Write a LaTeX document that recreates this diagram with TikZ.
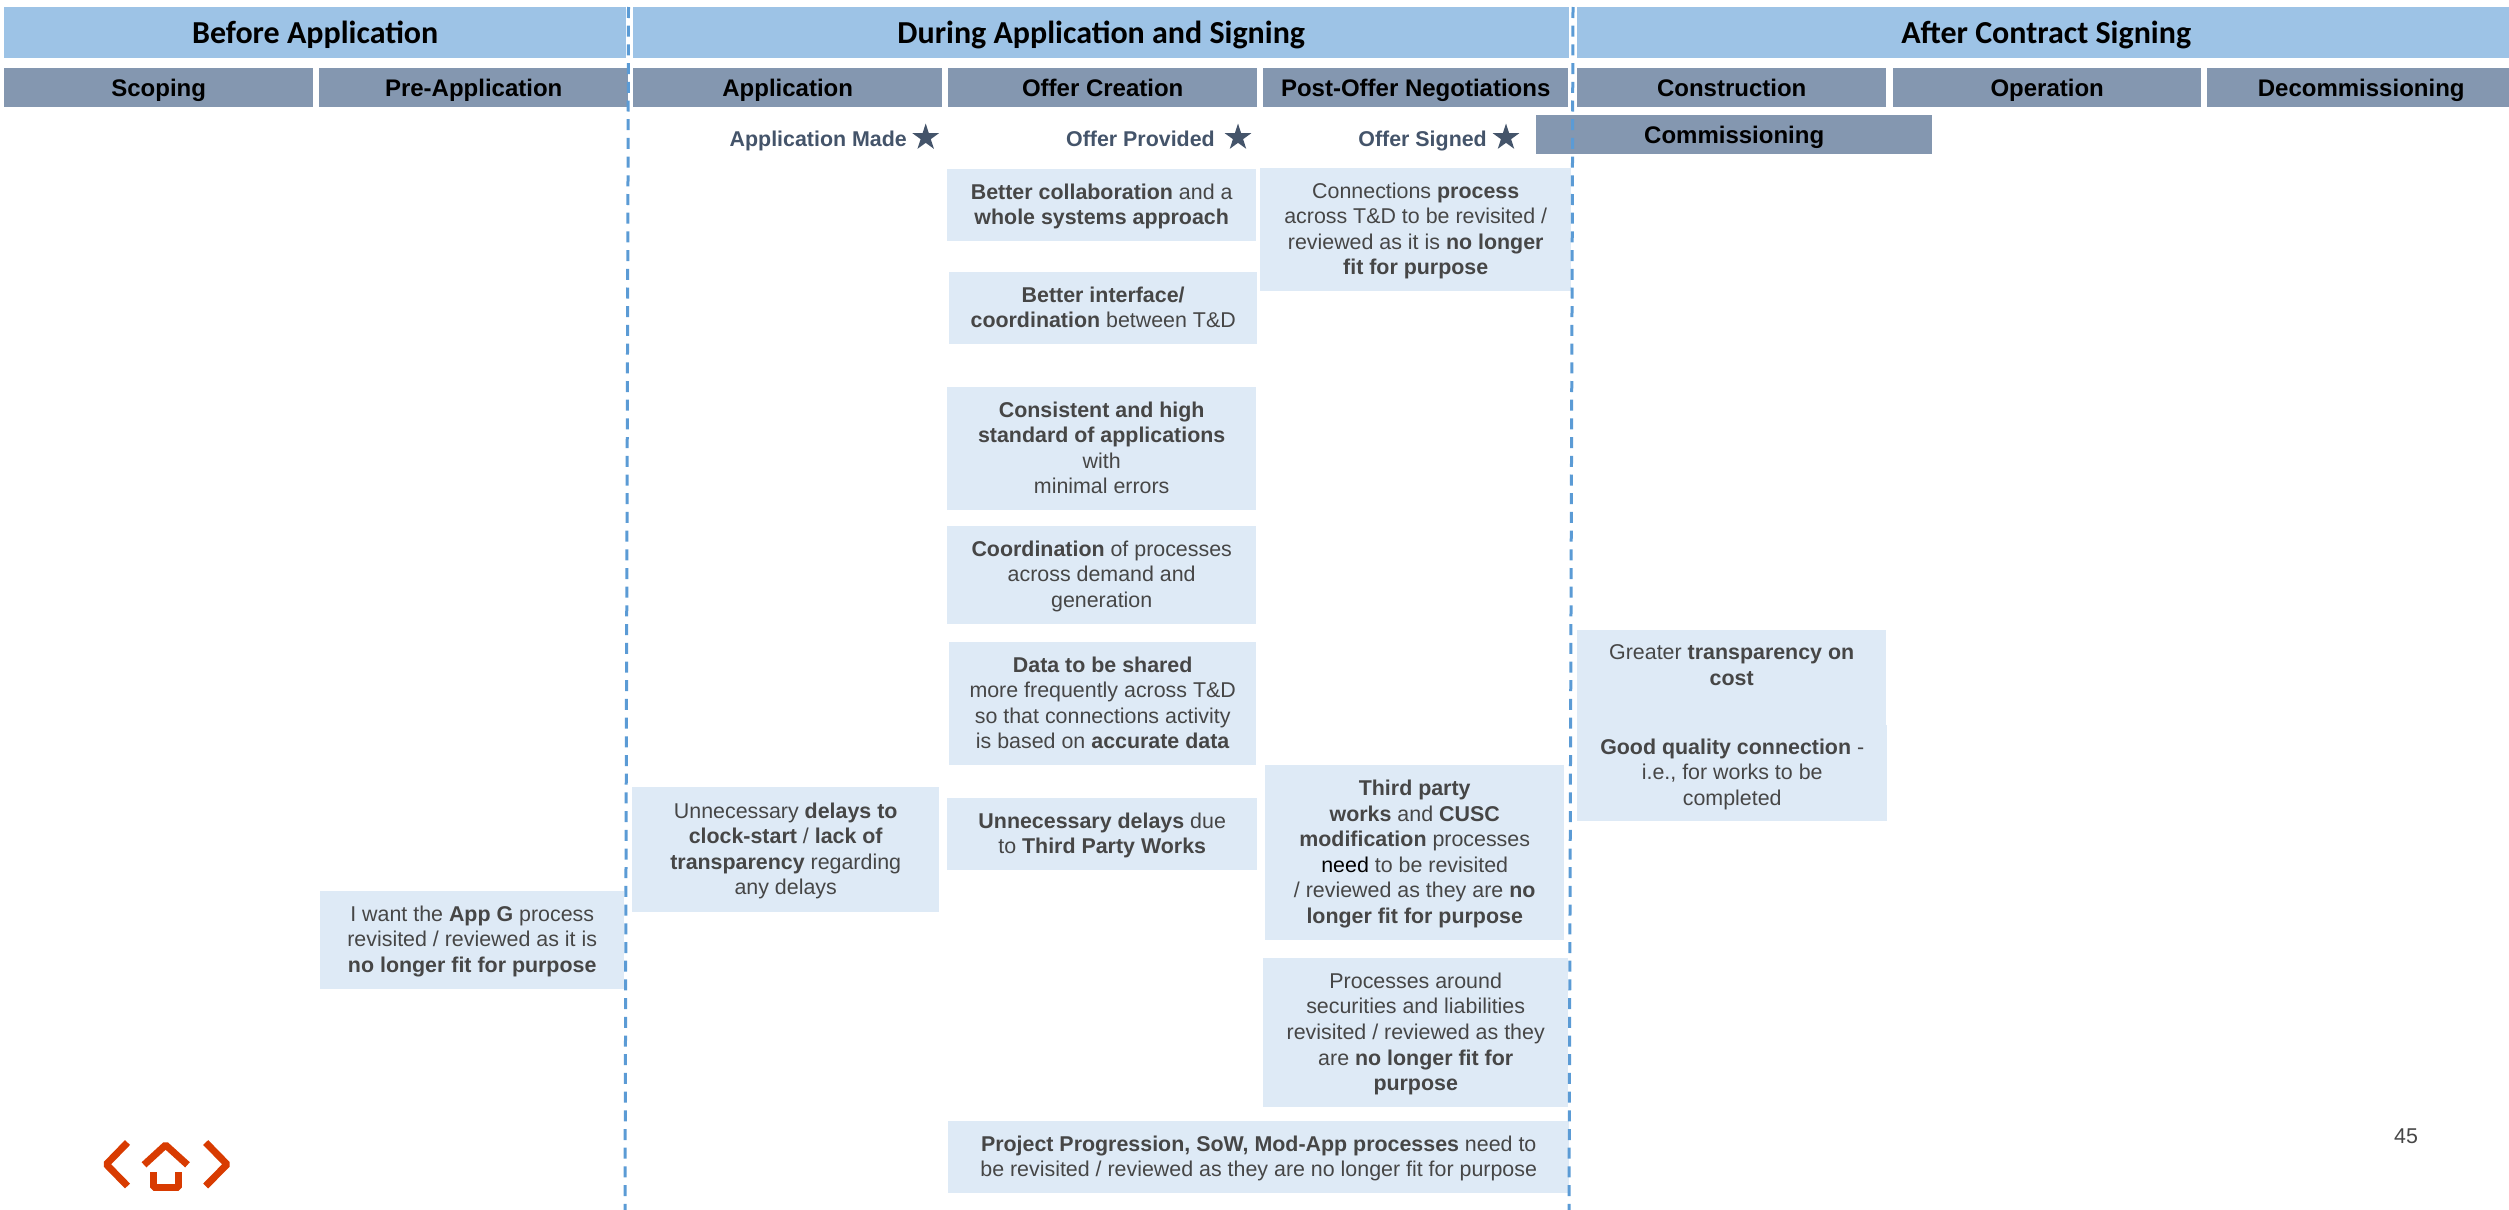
\documentclass[tikz,border=0pt]{standalone}
\usepackage{fontspec}
\setmainfont{Liberation Sans}
\newfontfamily\headfont{Carlito}
\usepackage{xcolor}
\usetikzlibrary{shapes.geometric}
\definecolor{bandblue}{HTML}{9DC3E6}
\definecolor{rowgrey}{HTML}{8497B0}
\definecolor{cardblue}{HTML}{DEEAF6}
\definecolor{cardtext}{HTML}{464646}
\definecolor{miletext}{HTML}{44546A}
\definecolor{gatedash}{HTML}{5B9BD5}
\definecolor{logored}{HTML}{D83B01}
\tikzset{
	band/.style={fill=bandblue,anchor=north west,inner sep=0pt,minimum height=51pt,text height=22pt,text depth=0pt,font=\headfont\bfseries\fontsize{32}{35}\selectfont},
	rowhead/.style={fill=rowgrey,anchor=north west,inner sep=0pt,minimum height=39pt,text height=18.4pt,text depth=0pt,font=\bfseries\fontsize{24}{28}\selectfont},
	card/.style={fill=cardblue,text=cardtext,anchor=north west,inner sep=0pt,align=center,text depth=2pt,font=\fontsize{21.4}{25.6}\selectfont},
	milestone/.style={text=miletext,anchor=base east,inner sep=0pt,font=\bfseries\fontsize{21.4}{25.6}\selectfont},
	milestar/.style={star,star points=5,star point ratio=2.618,fill=miletext,inner sep=0pt,minimum size=28pt},
	gate/.style={gatedash,line width=3pt,dash pattern=on 11pt off 7.7pt},
	logoline/.style={logored,line width=7pt,line join=bevel}
}
\begin{document}
\begin{tikzpicture}[x=1pt,y=-1pt]
		\useasboundingbox (0,0) rectangle (2509,1210);
		\node[band,minimum width=622pt] (before) at (4,7) {Before Application};
		\node[band,minimum width=936pt] (during) at (633,7) {During Application and Signing};
		\node[band,minimum width=938pt] (after) at (1577,7) {After Contract Signing};
		\node[rowhead,minimum width=309pt] (scoping) at (4,68) {Scoping};
		\node[rowhead,minimum width=309pt] (preapp) at (319,68) {Pre-Application};
		\node[rowhead,minimum width=309pt] (application) at (633,68) {Application};
		\node[rowhead,minimum width=309pt] (offer) at (948,68) {Offer Creation};
		\node[rowhead,minimum width=305pt] (postoffer) at (1263,68) {Post-Offer Negotiations};
		\node[rowhead,minimum width=309pt] (construction) at (1577,68) {Construction};
		\node[rowhead,minimum width=308pt] (operation) at (1893,68) {Operation};
		\node[rowhead,minimum width=308pt] (decom) at (2207,68) {Decommissioning};
		\node[rowhead,minimum width=396pt] (commissioning) at (1536,115) {Commissioning};
		\node[milestar] (stara) at (925.7,137.5) {};
		\node[milestar] (starb) at (1238,137.5) {};
		\node[milestar] (starc) at (1506,137.5) {};
		\node[milestone] (made) at (907,146.5) {Application Made};
		\node[milestone] (provided) at (1215,146.5) {Offer Provided};
		\node[milestone] (signed) at (1487,146.5) {Offer Signed};
		\node[card,minimum width=309pt,minimum height=72pt] (collab) at (947,169) {\textbf{Better collaboration} and a\\\textbf{whole systems approach}};
		\node[card,minimum width=311pt,minimum height=123pt] (process) at (1260,168) {Connections \textbf{process}\\across T\&D to be revisited /\\reviewed as it is \textbf{no longer}\\\textbf{fit for purpose}};
		\node[card,minimum width=308pt,minimum height=72pt] (interface) at (949,272) {\textbf{Better interface/}\\\textbf{coordination} between T\&D};
		\node[card,minimum width=309pt,minimum height=123pt] (standard) at (947,387) {\textbf{Consistent and high}\\\textbf{standard of applications}\\with\\minimal errors};
		\node[card,minimum width=309pt,minimum height=98pt] (coord) at (947,526) {\textbf{Coordination} of processes\\across demand and\\generation};
		\node[card,minimum width=307pt,minimum height=123pt] (shared) at (949,642) {\textbf{Data to be shared}\\more frequently across T\&D\\so that connections activity\\is based on \textbf{accurate data}};
		\node[card,minimum width=310pt,minimum height=72pt] (delaysthird) at (947,798) {\textbf{Unnecessary delays} due\\to \textbf{Third Party Works}};
		\node[card,minimum width=307pt,minimum height=125pt] (delaysclock) at (632,787) {Unnecessary \textbf{delays to}\\\textbf{clock-start} / \textbf{lack of}\\\textbf{transparency} regarding\\any delays};
		\node[card,minimum width=304pt,minimum height=98pt] (appg) at (320,891) {I want the \textbf{App G} process\\revisited / reviewed as it is\\\textbf{no longer fit for purpose}};
		\node[card,minimum width=299pt,minimum height=175pt] (cusc) at (1265,765) {\textbf{Third party}\\\textbf{works} and \textbf{CUSC}\\\textbf{modification} processes\\\textcolor{black}{need} to be revisited\\/ reviewed as they are \textbf{no}\\\textbf{longer fit for purpose}};
		\node[card,minimum width=305pt,minimum height=149pt] (securities) at (1263,958) {Processes around\\securities and liabilities\\revisited / reviewed as they\\are \textbf{no longer fit for}\\\textbf{purpose}};
		\node[card,minimum width=621pt,minimum height=72pt] (progression) at (948,1121) {\textbf{Project Progression, SoW, Mod-App processes} need to\\be revisited / reviewed as they are no longer fit for purpose};
		\node[card,minimum width=309pt,minimum height=97pt] (cost) at (1577,630) {Greater \textbf{transparency on}\\\textbf{cost}\\~};
		\node[card,minimum width=310pt,minimum height=96pt] (quality) at (1577,725) {\textbf{Good quality connection} -\\i.e., for works to be\\completed};
		\coordinate (gatea top) at (628.5,7);
		\coordinate (gatea end) at (625,1210);
		\coordinate (gateb top) at (1573,7);
		\coordinate (gateb end) at (1569,1210);
		\draw[gate] (gatea top) -- (gatea end);
		\draw[gate] (gateb top) -- (gateb end);
		\node[text=cardtext,inner sep=0pt,font=\fontsize{21.4}{25.6}\selectfont] (pagenum) at (2406,1136) {45};
		\draw[logoline] (127.5,1142.5) -- (106.3,1164.3) -- (127.5,1186);
		\draw[logoline] (144,1164.8) -- (165.6,1145) -- (187.5,1164.8);
		\draw[logoline] (205.7,1142.5) -- (227,1164.3) -- (205.7,1186);
		\draw[logoline] (153.8,1172.3) -- (153.8,1187) -- (178,1187) -- (178,1172.3);
	\end{tikzpicture}
\end{document}
